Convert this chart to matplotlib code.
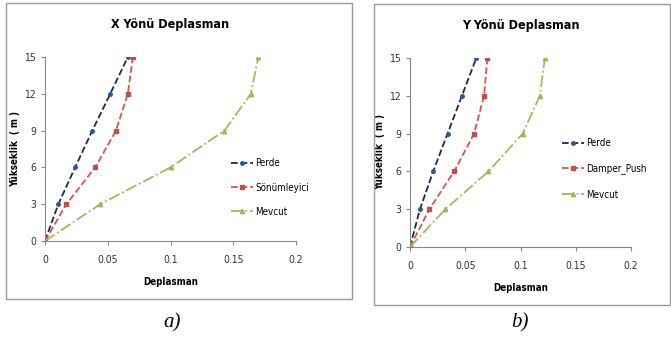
import matplotlib.pyplot as plt
from matplotlib.patches import Rectangle

plt.rcParams['font.family'] = ['Liberation Sans Narrow', 'DejaVu Sans']
plt.rcParams['font.stretch'] = 'condensed'

heights = [0, 3, 6, 9, 12, 15]

# X direction
x_perde = [0, 0.0106, 0.024, 0.0377, 0.052, 0.066]
x_sonum = [0, 0.017, 0.040, 0.0565, 0.066, 0.070]
x_mevcut = [0, 0.044, 0.100, 0.143, 0.164, 0.170]

# Y direction
y_perde = [0, 0.009, 0.021, 0.034, 0.047, 0.060]
y_damper = [0, 0.0175, 0.040, 0.058, 0.067, 0.070]
y_mevcut = [0, 0.032, 0.071, 0.102, 0.1175, 0.122]

xticks = [0, 0.05, 0.1, 0.15, 0.2]
xticklabels = ['0', '0.05', '0.1', '0.15', '0.2']
yticks = [0, 3, 6, 9, 12, 15]

W, H = 671, 340
fig = plt.figure(figsize=(W / 100, H / 100), dpi=100)


def px_axes(l, r, t, b):
    return fig.add_axes([l / W, 1 - b / H, (r - l) / W, (b - t) / H])


def draw(ax, s1, s2, s3, name2, title, anchor, spacing):
    ax.plot(s1, heights, color='#1f2a44', ls='--', lw=1.3, marker='o', ms=2.5,
            mfc='#2e5597', mec='#2e5597', label='Perde')
    ax.plot(s2, heights, color='#d9534f', ls='--', lw=1.3, marker='s', ms=3.2,
            mfc='#c0504d', mec='#c0504d', label=name2)
    ax.plot(s3, heights, color='#9bbb59', ls='-.', lw=1.3, marker='^', ms=3.2,
            mfc='#9bbb59', mec='#9bbb59', label='Mevcut')
    ax.set_xlim(0, 0.2)
    ax.set_ylim(0, 15)
    ax.set_xticks(xticks)
    ax.set_xticklabels(xticklabels)
    ax.set_yticks(yticks)
    for sp in ['top', 'right']:
        ax.spines[sp].set_visible(False)
    for sp in ['left', 'bottom']:
        ax.spines[sp].set_color('#888888')
        ax.spines[sp].set_linewidth(0.8)
    ax.tick_params(axis='both', labelsize=7.5, colors='#888888', labelcolor='#333333',
                   length=3, width=0.8, direction='out')
    ax.tick_params(axis='x', pad=7)
    ax.set_title(title, fontsize=9, fontweight='bold', pad=21)
    ax.set_xlabel('Deplasman', fontsize=7, fontweight='bold', labelpad=9)
    ax.set_ylabel('Yükseklik  ( m )', fontsize=7, fontweight='bold', labelpad=3)
    ax.legend(loc='upper left', bbox_to_anchor=anchor, frameon=False, fontsize=7,
              handlelength=2.3, labelspacing=spacing, handletextpad=0.2, borderpad=0)


ax1 = px_axes(45, 296, 57, 241)
draw(ax1, x_perde, x_sonum, x_mevcut, 'Sönümleyici', 'X Yönü Deplasman', (0.72, 0.475), 1.45)

ax2 = px_axes(410, 631, 58, 247)
draw(ax2, y_perde, y_damper, y_mevcut, 'Damper_Push', 'Y Yönü Deplasman', (0.665, 0.60), 1.55)

# chart frames
fig.patches.append(Rectangle((6 / W, 1 - 299 / H), 346 / W, 296 / H, transform=fig.transFigure,
                             fill=False, edgecolor='#999999', lw=1))
fig.patches.append(Rectangle((374 / W, 1 - 305 / H), 296 / W, 301 / H, transform=fig.transFigure,
                             fill=False, edgecolor='#999999', lw=1))

fig.text(172 / W, 1 - 323 / H, 'a)', fontsize=15, style='italic', family='Liberation Serif',
         ha='center', va='center')
fig.text(520 / W, 1 - 323 / H, 'b)', fontsize=15, style='italic', family='Liberation Serif',
         ha='center', va='center')

fig.savefig('out.png', dpi=100)
